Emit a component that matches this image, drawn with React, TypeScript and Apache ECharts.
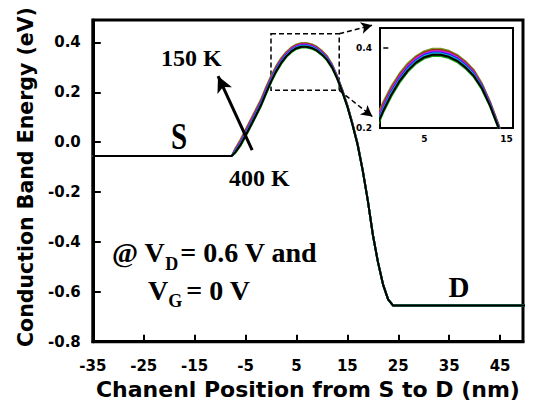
import React, { useEffect, useRef } from 'react';
import * as echarts from 'echarts';

// Channel position (nm), shared by all curves
const X_POS = [-35, -7.7, -7, -6, -5, -4, -3, -2, -1, 0, 1, 2, 3, 4, 5, 6, 7, 8, 9, 10, 11, 12, 13, 14, 15, 16, 17, 18, 19, 20, 21, 22, 23, 24, 50];

// Conduction band energy (eV), top curve (150 K) to bottom curve (400 K)
const CB_150K = [-0.055, -0.055, -0.025, 0.010, 0.050, 0.090, 0.130, 0.170, 0.220, 0.265, 0.305, 0.337, 0.362, 0.380, 0.392, 0.398, 0.398, 0.393, 0.383, 0.367, 0.346, 0.312, 0.266, 0.211, 0.149, 0.076, -0.004, -0.110, -0.230, -0.370, -0.480, -0.570, -0.630, -0.655, -0.655];
const CB_200K = [-0.055, -0.055, -0.028, 0.005, 0.045, 0.085, 0.125, 0.165, 0.215, 0.260, 0.300, 0.333, 0.358, 0.377, 0.389, 0.395, 0.395, 0.390, 0.380, 0.364, 0.343, 0.309, 0.264, 0.209, 0.147, 0.075, -0.005, -0.110, -0.230, -0.370, -0.480, -0.570, -0.630, -0.655, -0.655];
const CB_250K = [-0.055, -0.055, -0.031, 0.001, 0.040, 0.080, 0.120, 0.160, 0.210, 0.256, 0.296, 0.329, 0.355, 0.374, 0.386, 0.392, 0.392, 0.387, 0.377, 0.361, 0.340, 0.307, 0.262, 0.207, 0.146, 0.074, -0.006, -0.111, -0.230, -0.370, -0.480, -0.570, -0.630, -0.655, -0.655];
const CB_300K = [-0.055, -0.055, -0.034, -0.003, 0.035, 0.075, 0.115, 0.156, 0.205, 0.251, 0.292, 0.325, 0.351, 0.370, 0.383, 0.389, 0.389, 0.384, 0.374, 0.358, 0.337, 0.305, 0.260, 0.206, 0.145, 0.073, -0.007, -0.111, -0.231, -0.370, -0.480, -0.570, -0.630, -0.655, -0.655];
const CB_350K = [-0.055, -0.055, -0.037, -0.007, 0.031, 0.070, 0.110, 0.151, 0.200, 0.247, 0.288, 0.321, 0.347, 0.367, 0.380, 0.386, 0.386, 0.381, 0.371, 0.355, 0.334, 0.302, 0.258, 0.204, 0.144, 0.072, -0.008, -0.112, -0.231, -0.370, -0.480, -0.570, -0.630, -0.655, -0.655];
const CB_375K = [-0.055, -0.055, -0.040, -0.011, 0.027, 0.066, 0.106, 0.147, 0.196, 0.243, 0.284, 0.318, 0.344, 0.364, 0.377, 0.383, 0.383, 0.378, 0.368, 0.352, 0.331, 0.300, 0.256, 0.203, 0.143, 0.071, -0.009, -0.112, -0.232, -0.370, -0.480, -0.570, -0.630, -0.655, -0.655];
const CB_400K = [-0.055, -0.055, -0.043, -0.015, 0.023, 0.062, 0.102, 0.143, 0.192, 0.239, 0.280, 0.314, 0.341, 0.361, 0.374, 0.380, 0.380, 0.375, 0.365, 0.349, 0.328, 0.297, 0.254, 0.201, 0.142, 0.070, -0.010, -0.113, -0.232, -0.370, -0.480, -0.570, -0.630, -0.655, -0.655];

const CURVE_NAMES = ['150 K', '200 K', '250 K', '300 K', '350 K', '375 K', '400 K'];
const CURVES = [CB_150K, CB_200K, CB_250K, CB_300K, CB_350K, CB_375K, CB_400K];
const CURVE_COLORS = ['#7a9a2a', '#9a2a10', '#e020e0', '#2020ff', '#10b8c8', '#000000', '#10a010'];
// drawing order (black drawn last, on top)
const DRAW_ORDER = [0, 1, 2, 3, 4, 6, 5];

const X_TICKS = [-35, -25, -15, -5, 5, 15, 25, 35, 45];
const Y_TICKS = [-0.8, -0.6, -0.4, -0.2, 0, 0.2, 0.4];
const INSET_X_TICKS = [5, 15];
const INSET_Y_TICKS = [0.2, 0.4];

const SANS = "'DejaVu Sans', 'Liberation Sans', Arial, sans-serif";
const SERIF = "'Liberation Serif', 'Times New Roman', serif";

function measure(txt: string, size: number): number {
  const c = document.createElement('canvas').getContext('2d');
  if (!c) return txt.length * size * 0.55;
  c.font = `bold ${size}px ${SERIF}`;
  return c.measureText(txt).width;
}

function subLine(x0: number, yMid: number, parts: Array<[string, boolean, number]>) {
  const els: any[] = [];
  let x = x0;
  for (const [t, isSub, gap] of parts) {
    const size = isSub ? 18 : 28;
    x += gap;
    els.push({
      type: 'text',
      x,
      y: isSub ? yMid + 11 : yMid,
      style: {
        text: t,
        fontSize: size,
        fontWeight: 'bold',
        fontFamily: SERIF,
        fill: '#000',
        textAlign: 'left',
        textVerticalAlign: 'middle',
      },
    });
    x += measure(t, size);
  }
  return els;
}

export default function App() {
  const ref = useRef<HTMLDivElement>(null);

  useEffect(() => {
    if (!ref.current) return;
    const chart = echarts.init(ref.current, undefined, { renderer: 'svg' });

    const pairs = (ys: number[]) => X_POS.map((x, i) => [x, ys[i]]);

    const mainSeries = DRAW_ORDER.map((k) => ({
      name: CURVE_NAMES[k],
      type: 'line',
      xAxisIndex: 0,
      yAxisIndex: 0,
      data: pairs(CURVES[k]),
      symbol: 'none',
      showSymbol: false,
      lineStyle: { color: CURVE_COLORS[k], width: 2 },
      itemStyle: { color: CURVE_COLORS[k] },
      silent: true,
    }));

    const insetSeries = DRAW_ORDER.map((k) => ({
      name: CURVE_NAMES[k] + ' inset',
      type: 'line',
      xAxisIndex: 1,
      yAxisIndex: 1,
      data: pairs(CURVES[k]),
      symbol: 'none',
      showSymbol: false,
      clip: true,
      lineStyle: { color: CURVE_COLORS[k], width: 2 },
      itemStyle: { color: CURVE_COLORS[k] },
      silent: true,
    }));

    const annotations = [
      {
        name: 'temp-arrow',
        type: 'line',
        xAxisIndex: 0,
        yAxisIndex: 0,
        data: [],
        silent: true,
        markLine: {
          silent: true,
          symbol: ['none', 'arrow'],
          symbolSize: [12, 16],
          label: { show: false },
          lineStyle: { color: '#000', width: 3, type: 'solid' },
          data: [[{ coord: [-3.7, -0.032] }, { coord: [-10.4, 0.265] }]],
        },
      },
      {
        name: 'zoom-box',
        type: 'line',
        xAxisIndex: 0,
        yAxisIndex: 0,
        data: [],
        silent: true,
        markArea: {
          silent: true,
          itemStyle: { color: 'rgba(0,0,0,0)', borderColor: '#000', borderWidth: 1.5, borderType: [5, 3] },
          data: [[{ coord: [0, 0.435] }, { coord: [13.4, 0.208] }]],
        },
        markLine: {
          silent: true,
          symbol: ['none', 'arrow'],
          symbolSize: [9, 11],
          label: { show: false },
          lineStyle: { color: '#000', width: 1.5, type: [5, 3] },
          data: [
            [{ coord: [13.4, 0.435] }, { coord: [19.85, 0.469] }],
            [{ coord: [13.4, 0.208] }, { coord: [19.9, 0.103] }],
          ],
        },
      },
    ];

    const graphic = [
      {
        type: 'text', x: 26, y: 177, rotation: Math.PI / 2,
        style: { text: 'Conduction Band Energy (eV)', fontSize: 20.5, fontWeight: 'bold', fontFamily: SANS, fill: '#000', textAlign: 'center', textVerticalAlign: 'middle' },
      },
      { type: 'text', x: 161, y: 58, style: { text: '150 K', fontSize: 24, fontWeight: 'bold', fontFamily: SERIF, fill: '#000', textAlign: 'left', textVerticalAlign: 'middle' } },
      { type: 'text', x: 229, y: 178, style: { text: '400 K', fontSize: 24, fontWeight: 'bold', fontFamily: SERIF, fill: '#000', textAlign: 'left', textVerticalAlign: 'middle' } },
      { type: 'text', x: 179, y: 136, scaleY: 1.3, style: { text: 'S', fontSize: 29, fontWeight: 'bold', fontFamily: SERIF, fill: '#000', textAlign: 'center', textVerticalAlign: 'middle' } },
      { type: 'text', x: 459, y: 287, style: { text: 'D', fontSize: 29, fontWeight: 'bold', fontFamily: SERIF, fill: '#000', textAlign: 'center', textVerticalAlign: 'middle' } },
      ...subLine(112, 252.5, [['@ V', false, 0], ['D', true, 0], ['= 0.6 V and', false, 2]]),
      ...subLine(148, 290, [['V', false, 0], ['G', true, 0], ['= 0 V', false, 4]]),
    ];

    const option: any = {
      animation: false,
      backgroundColor: '#fff',
      grid: [
        { left: 92.8, top: 20, right: 15, bottom: 60.3, containLabel: false, outerBoundsMode: 'none', show: true, borderColor: '#000', borderWidth: 3, backgroundColor: 'transparent' },
        { left: 380, top: 28, width: 133, height: 100, containLabel: false, outerBoundsMode: 'none', show: true, borderColor: '#000', borderWidth: 2, backgroundColor: '#fff' },
      ],
      xAxis: [
        {
          type: 'value',
          gridIndex: 0,
          min: -35,
          max: 49.5,
          interval: 10,
          splitLine: { show: false },
          axisLine: { show: true, onZero: false, lineStyle: { color: '#000', width: 3 } },
          axisTick: { show: true, inside: true, length: 7, customValues: X_TICKS, lineStyle: { color: '#000', width: 2 } },
          axisLabel: { customValues: X_TICKS, color: '#000', fontFamily: SANS, fontWeight: 'bold', fontSize: 15, margin: 17, formatter: (v: number) => String(Math.round(v)) },
          name: 'Chanenl Position from S to D (nm)',
          nameLocation: 'middle',
          nameGap: 27,
          nameTextStyle: { color: '#000', fontFamily: SANS, fontWeight: 'bold', fontSize: 22 },
        },
        {
          type: 'value',
          gridIndex: 1,
          min: -0.4,
          max: 15.8,
          splitLine: { show: false },
          axisLine: { show: false },
          axisTick: { show: false },
          axisLabel: { customValues: INSET_X_TICKS, color: '#000', fontFamily: SANS, fontWeight: 'bold', fontSize: 9, margin: 6, formatter: (v: number) => String(Math.round(v)) },
        },
      ],
      yAxis: [
        {
          type: 'value',
          gridIndex: 0,
          min: -0.8,
          max: 0.49,
          interval: 0.2,
          splitLine: { show: false },
          axisLine: { show: true, onZero: false, lineStyle: { color: '#000', width: 3 } },
          axisTick: { show: true, inside: true, length: 8, customValues: Y_TICKS, lineStyle: { color: '#000', width: 2 } },
          axisLabel: { customValues: Y_TICKS, color: '#000', fontFamily: SANS, fontWeight: 'bold', fontSize: 15, margin: 12, formatter: (v: number) => v.toFixed(1) },
        },
        {
          type: 'value',
          gridIndex: 1,
          min: 0.2,
          max: 0.45,
          splitLine: { show: false },
          axisLine: { show: false },
          axisTick: { show: true, inside: true, length: 5, customValues: [0.4], lineStyle: { color: '#000', width: 1.5 } },
          axisLabel: { customValues: INSET_Y_TICKS, color: '#000', fontFamily: SANS, fontWeight: 'bold', fontSize: 9, margin: 8, formatter: (v: number) => v.toFixed(1) },
        },
      ],
      series: [...mainSeries, ...insetSeries, ...annotations],
      graphic,
    };

    chart.setOption(option);
    return () => chart.dispose();
  }, []);

  return <div ref={ref} style={{ position: 'fixed', left: 0, top: 0, width: 538, height: 402, background: '#fff' }} />;
}
